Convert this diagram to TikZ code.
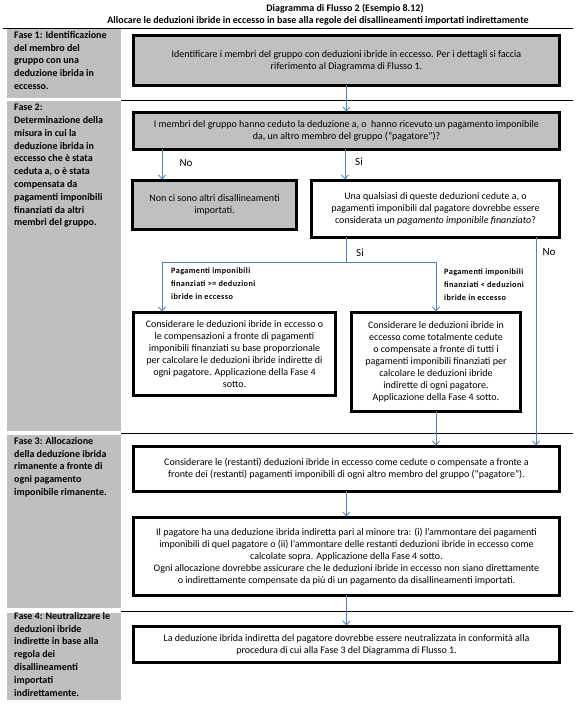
\documentclass[tikz,border=0pt]{standalone}
\usepackage{fontspec}
\setmainfont{Carlito}
\newfontfamily\lblfont[LetterSpace=5]{Carlito}
\usetikzlibrary{arrows.meta,calc}
\definecolor{panelgray}{RGB}{191,191,191}
\definecolor{boxgray}{RGB}{192,192,192}
\definecolor{arrowblue}{RGB}{79,129,189}
\begin{document}
\begin{tikzpicture}[x=1pt,y=-1pt,
  box/.style={draw=black, line width=3.4pt, align=center, inner sep=2pt, outer sep=0pt,
    font=\fontsize{10}{12}\selectfont},
  graybox/.style={box, fill=boxgray},
  whitebox/.style={box, fill=white},
  arr/.style={draw=arrowblue, line width=0.8pt, shorten >=1.2pt, -{Straight Barb[length=4pt,width=7pt]}},
  conn/.style={draw=arrowblue, line width=0.8pt},
  phase/.style={fill=panelgray, draw=none},
  phasetext/.style={anchor=north west, align=left, inner sep=0pt,
    font=\fontsize{10}{12.8}\selectfont\bfseries},
  sep/.style={draw=black, line width=0.9pt},
  yn/.style={inner sep=0pt, font=\fontsize{11}{13}\selectfont},
  cond/.style={anchor=north west, align=left, inner sep=0pt,
    font=\lblfont\bfseries\fontsize{8.2}{13}\selectfont},
  titlestyle/.style={inner sep=0pt, font=\fontsize{10}{12}\selectfont\bfseries}
]
\useasboundingbox (0,0) rectangle (579,707);
\fill[white] (0,0) rectangle (579,707);

% title
\node[titlestyle] (t1) at (345,9) {Diagramma di Flusso 2 (Esempio 8.12)};
\node[titlestyle] (t2) at (318,21) {Allocare le deduzioni ibride in eccesso in base alla regole dei disallineamenti importati indirettamente};

% separators
\draw[sep] (3,28) -- (573,28);
\draw[sep] (121,100) -- (573,100);
\draw[sep] (121,433) -- (573,433);
\draw[sep] (121,611) -- (573,611);

% phase panels
\fill[phase] (7,29) rectangle (121,98);
\fill[phase] (7,101) rectangle (121,431);
\fill[phase] (7,435) rectangle (121,608);
\fill[phase] (7,613) rectangle (121,700);

\node[phasetext] (p1) at (14,31) {Fase 1: Identificazione\\del membro del\\gruppo con una\\deduzione ibrida in\\eccesso.};
\node[phasetext] (p2) at (14,104) {Fase 2:\\Determinazione della\\misura in cui la\\deduzione ibrida in\\eccesso che è stata\\ceduta a, o è stata\\compensata da\\pagamenti imponibili\\finanziati da altri\\membri del gruppo.};
\node[phasetext] (p3) at (14,437) {Fase 3: Allocazione\\della deduzione ibrida\\rimanente a fronte di\\ogni pagamento\\imponibile rimanente.};
\node[phasetext] (p4) at (14,612) {Fase 4: Neutralizzare le\\deduzioni ibride\\indirette in base alla\\regola dei\\disallineamenti\\importati\\indirettamente.};

% boxes
\node[graybox, minimum width=425.6pt, minimum height=49.6pt] (b1) at (346.5,60.5)
  {Identificare i membri del gruppo con deduzioni ibride in eccesso. Per i dettagli si faccia\\riferimento al Diagramma di Flusso 1.};
\node[graybox, minimum width=425.6pt, minimum height=36.6pt] (b2) at (346.5,131)
  {I membri del gruppo hanno ceduto la deduzione a, o\ \ hanno ricevuto un pagamento imponibile\\da, un altro membro del gruppo (“pagatore”)?};
\node[graybox, minimum width=163.6pt, minimum height=48.6pt] (b3) at (214.5,205)
  {Non ci sono altri disallineamenti\\importati.};
\node[whitebox, minimum width=247.6pt, minimum height=56.6pt] (b4) at (435.5,209)
  {Una qualsiasi di queste deduzioni cedute a, o\\pagamenti imponibili dal pagatore dovrebbe essere\\considerata un \textit{pagamento imponibile finanziato}?};
\node[whitebox, minimum width=201.6pt, minimum height=82.6pt] (b5) at (234.5,354)
  {Considerare le deduzioni ibride in eccesso o\\le compensazioni a fronte di pagamenti\\imponibili finanziati su base proporzionale\\per calcolare le deduzioni ibride indirette di\\ogni pagatore. Applicazione della Fase 4\\sotto.};
\node[whitebox, minimum width=168.6pt, minimum height=98.6pt] (b6) at (436,362)
  {Considerare le deduzioni ibride in\\eccesso come totalmente cedute\\o compensate a fronte di tutti i\\pagamenti imponibili finanziati per\\calcolare le deduzioni ibride\\indirette di ogni pagatore.\\Applicazione della Fase 4 sotto.};
\node[whitebox, minimum width=425.6pt, minimum height=44.6pt] (b7) at (346.5,469)
  {Considerare le (restanti) deduzioni ibride in eccesso come cedute o compensate a fronte a\\fronte dei (restanti) pagamenti imponibili di ogni altro membro del gruppo (“pagatore”).};
\node[whitebox, minimum width=425.6pt, minimum height=77.6pt] (b8) at (346.5,556.5)
  {Il pagatore ha una deduzione ibrida indiretta pari al minore tra: (i) l’ammontare dei pagamenti\\imponibili di quel pagatore o (ii) l’ammontare delle restanti deduzioni ibride in eccesso come\\calcolate sopra. Applicazione della Fase 4 sotto.\\Ogni allocazione dovrebbe assicurare che le deduzioni ibride in eccesso non siano direttamente\\o indirettamente compensate da più di un pagamento da disallineamenti importati.};
\node[whitebox, minimum width=425.6pt, minimum height=35.6pt] (b9) at (346.5,644.5)
  {La deduzione ibrida indiretta del pagatore dovrebbe essere neutralizzata in conformità alla\\procedura di cui alla Fase 3 del Diagramma di Flusso 1.};

% column coordinates
\coordinate (xno1) at (162,0);
\coordinate (xsi1) at (345,0);
\coordinate (xno2) at (536,0);
\coordinate (split) at (346,262);
\coordinate (sl) at (162,262);
\coordinate (sr) at (436,262);

% connectors
\draw[arr] (b1.south) -- (b2.north);
\draw[arr] (b2.south -| xno1) -- (b3.north -| xno1);
\draw[arr] (b2.south -| xsi1) -- (b4.north -| xsi1);
\draw[conn] (b4.south -| split) -- (split);
\draw[conn] (sl) -- (sr);
\draw[arr] (sl) -- (b5.north -| sl);
\draw[arr] (sr) -- (b6.north -| sr);
\draw[arr] (b4.south -| xno2) -- (b7.north -| xno2);
\draw[arr] (b6.south) -- (b7.north -| b6.south);
\draw[arr] (b7.south) -- (b8.north);
\draw[arr] (b8.south) -- (b9.north);

% labels
\node[yn] (lno1) at (186,163) {No};
\node[yn] (lsi1) at (359,162) {Si};
\node[yn] (lsi2) at (360,253) {Si};
\node[yn] (lno2) at (549,252) {No};
\node[cond] (c1) at (171,268) {Pagamenti imponibili\\finanziati >= deduzioni\\ibride in eccesso};
\node[cond] (c2) at (444,269) {Pagamenti imponibili\\finanziati < deduzioni\\ibride in eccesso};
\end{tikzpicture}
\end{document}
